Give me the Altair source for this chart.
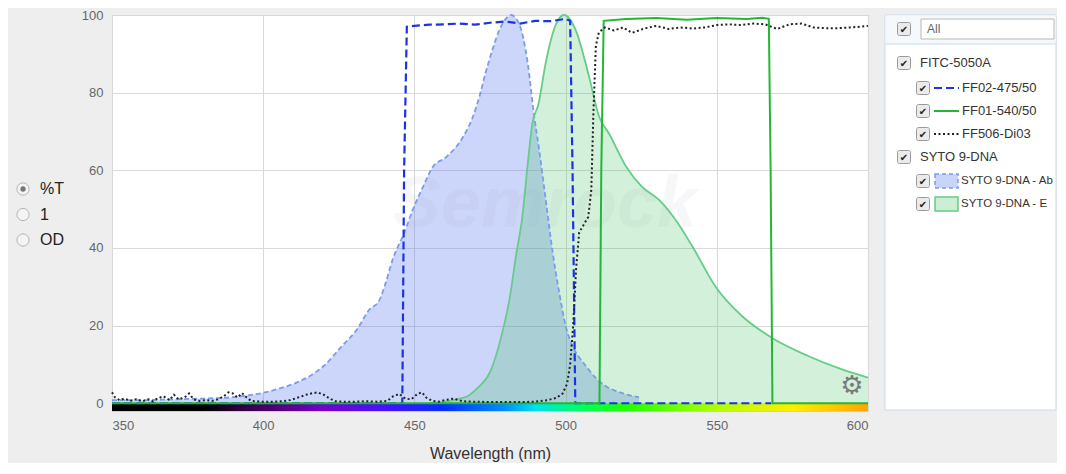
import altair as alt
import pandas as pd

# ---------------- data ----------------
# SYTO 9-DNA absorption (% of peak)
abs_wl = [350, 360, 370, 380, 389, 395, 400, 405, 411, 416, 420, 426, 431, 435, 438.4, 440.5,
          442.8, 446.7, 449.4, 453, 456, 460.5, 466, 469.3, 471.5, 473.5, 475.8, 478, 480, 482,
          484.7, 487.4, 489.6, 491.3, 493.5, 495.6, 497.9, 500, 502.3, 504.5, 506.7, 510, 513.3,
          516.5, 520, 524.3]
abs_v = [0.8, 0.8, 1.0, 1.2, 1.5, 2.0, 2.7, 3.7, 5.3, 7.3, 9.6, 14.7, 19, 24, 26.5, 31,
         37, 44, 49.7, 56, 60.8, 63.4, 68.5, 73.7, 79, 85, 91, 96, 98.8, 100,
         97.6, 88, 74, 65, 52, 39.5, 28.5, 20, 14.7, 11.8, 9.6, 6.5, 4.4,
         3.2, 2.3, 1.5]

# SYTO 9-DNA emission (% of peak)
em_wl = [455, 460, 464, 468, 471, 475, 479, 481.5, 483.6, 485.7, 487.4, 489, 491, 493.5, 496.8,
         499.5, 503.4, 507.8, 511, 514.4, 520, 525.3, 531, 536.4, 542, 549.6, 558.4, 568.3,
         580.4, 591.4, 600]
em_v = [0, 0.4, 1.0, 2.0, 4.0, 8.0, 18, 27, 38, 48, 61, 72, 77, 88, 97.6,
        100, 96, 84, 74, 69.4, 61, 55.7, 52.3, 47.2, 40.3, 30, 22.4, 16.8,
        12.1, 8.7, 6.6]

# FF02-475/50 (%T)
ff02_wl = [350, 446, 446.6, 447.5, 450, 455, 460, 465, 470, 475, 480, 485, 490, 495, 500,
           501.5, 502.3, 503.2, 568]
ff02_t = [0, 0, 60, 97, 97.2, 97.5, 97.6, 97.8, 97.5, 98, 98.3, 97.8, 98.5, 98.4, 99,
          98.5, 60, 0, 0]

# FF01-540/50 (%T)
ff01_wl = [350, 511.2, 511.8, 512.6, 520, 530, 540, 550, 560, 565, 567.2, 567.8, 568.4, 600]
ff01_t = [0, 0, 60, 98.5, 99, 99.2, 98.8, 99.2, 99.0, 99.3, 99, 60, 0, 0]

# FF506-Di03 (%T)
ff506_wl = [350, 351, 352.5, 354, 356, 358, 360, 362, 363.5, 365, 367, 369, 370.5, 372, 374,
            375.5, 377, 379, 381, 383, 385, 387, 388.5, 390, 391.5, 393, 394.5, 396, 398, 400,
            403, 406, 409, 412, 415, 418, 420, 422, 424, 427, 430, 434, 438, 441, 443, 445,
            447, 449, 451, 452.5, 454, 456, 458, 460, 463, 466, 470, 475, 480, 485, 490, 494,
            497, 499, 500.5, 501.5, 502.5, 503.5, 504.5, 506, 507.5, 508.5, 509.2, 510, 511,
            513, 516, 519, 522, 526, 530, 534, 538, 542, 546, 550, 554, 558, 562, 566, 570,
            574, 578, 582, 586, 590, 594, 598, 600]
ff506_t = [2.8, 1.5, 0.8, 1.2, 0.6, 1.0, 0.5, 1.0, 0.5, 1.2, 1.8, 0.8, 2.2, 1.0, 1.5,
           2.5, 1.0, 0.6, 0.8, 0.6, 1.0, 1.8, 2.8, 2.5, 1.5, 2.6, 1.5, 0.6, 0.5, 0.4,
           0.4, 0.5, 0.8, 1.6, 2.4, 2.8, 2.2, 1.2, 0.5, 0.4, 0.4, 0.5, 0.4, 0.6, 1.8, 2.4,
           1.2, 1.0, 2.4, 2.8, 1.4, 0.6, 0.4, 0.8, 1.2, 0.5, 0.4, 0.3, 0.3, 0.3, 0.4, 0.8,
           1.4, 2.5, 5, 10, 20, 35, 44, 46, 48, 55, 75, 92, 95.5,
           96.8, 96, 96.8, 95.4, 96.5, 97.2, 96.4, 96.8, 96.5, 96.8, 97.4, 97.6, 97.4, 97.8, 97.6, 96.4,
           97.6, 97.8, 96.8, 96.6, 96.6, 96.8, 97, 97.2]

x_ticks = [350, 400, 450, 500, 550, 600]
y_ticks = [0, 20, 40, 60, 80, 100]
modes = ["%T", "1", "OD"]
spectrum_range = [350, 600]

# ---------------- styling ----------------
FONT = "Liberation Sans"
OX, OY = 112, 15          # page position of the plot origin
W, H = 756, 396

xs = alt.Scale(domain=[350, 600], nice=False, zero=False)
ys = alt.Scale(domain=[-2, 100], nice=False, zero=False)
xaxis = alt.Axis(values=x_ticks, grid=True, ticks=False, domain=False, labelPadding=8,
                 labelFontSize=13, labelColor="#666666", labelFont=FONT,
                 titleFontSize=16, titleFontWeight="normal", titleColor="#333333",
                 titleFont=FONT, titlePadding=13, gridColor="#d9d9d9")
yaxis = alt.Axis(values=y_ticks, grid=True, ticks=False, domain=False, labelPadding=9,
                 labelFontSize=13, labelColor="#666666", labelFont=FONT, gridColor="#d9d9d9")


def X():
    return alt.X("wl:Q", scale=xs, axis=xaxis, title="Wavelength (nm)")


def Y():
    return alt.Y("v:Q", scale=ys, axis=yaxis, title=None)


abs_df = pd.DataFrame({"wl": abs_wl, "v": abs_v})
em_df = pd.DataFrame({"wl": em_wl, "v": em_v})
ff02_df = pd.DataFrame({"wl": ff02_wl, "v": ff02_t})
ff01_df = pd.DataFrame({"wl": ff01_wl, "v": ff01_t})
ff506_df = pd.DataFrame({"wl": ff506_wl, "v": ff506_t})
one = pd.DataFrame({"k": [0]})

# colour strip along the bottom
stops = [(0.0, "#000000"), (0.12, "#000000"), (0.2, "#4a0064"), (0.28, "#7800cc"),
         (0.36, "#4a10ff"), (0.44, "#0030ff"), (0.52, "#0090ff"), (0.56, "#00e0f0"),
         (0.62, "#00ff60"), (0.68, "#20ff00"), (0.8, "#b0ff00"), (0.9, "#ffee00"),
         (1.0, "#ffa500")]
grad = alt.LinearGradient(gradient="linear",
                          stops=[alt.GradientStop(offset=o, color=c) for o, c in stops],
                          x1=0, x2=1, y1=0, y2=0)
strip = alt.Chart(one).mark_rect(color=grad).encode(
    x=alt.X(datum=spectrum_range[0], scale=xs, axis=xaxis, title="Wavelength (nm)"),
    x2=alt.datum(spectrum_range[1]),
    y=alt.Y(datum=0, scale=ys, axis=yaxis, title=None),
    y2=alt.datum(-2))

abs_area = alt.Chart(abs_df).mark_area(color="#5577ee", opacity=0.3,
                                       interpolate="monotone").encode(
    x=X(), y=Y(), y2=alt.datum(0))
em_area = alt.Chart(em_df).mark_area(color="#33bb55", opacity=0.22,
                                     interpolate="monotone").encode(
    x=X(), y=Y(), y2=alt.datum(0))
abs_line = alt.Chart(abs_df).mark_line(color="#7a9cec", strokeWidth=1.8, strokeDash=[5, 3],
                                       interpolate="monotone").encode(x=X(), y=Y())
em_line = alt.Chart(em_df).mark_line(color="#66cc88", strokeWidth=1.8,
                                     interpolate="monotone").encode(x=X(), y=Y())
ff02_line = alt.Chart(ff02_df).mark_line(color="#1b33e0", strokeWidth=2.2,
                                         strokeDash=[8, 4]).encode(x=X(), y=Y())
ff01_line = alt.Chart(ff01_df).mark_line(color="#22b833", strokeWidth=2.0).encode(x=X(), y=Y())
ff506_line = alt.Chart(ff506_df).mark_line(color="#222222", strokeWidth=2.0,
                                           strokeDash=[2, 2.5]).encode(x=X(), y=Y())


# ---------------- UI decorations ----------------
def rect(x1, y1, x2, y2, **kw):
    return alt.Chart(one).mark_rect(**kw).encode(
        x=alt.value(x1 - OX), x2=alt.value(x2 - OX),
        y=alt.value(y1 - OY), y2=alt.value(y2 - OY))


def text(s, x, y, **kw):
    opts = dict(align="left", baseline="middle", font=FONT, fontSize=13, color="#333333")
    opts.update(kw)
    return alt.Chart(pd.DataFrame({"t": [s]})).mark_text(**opts).encode(
        x=alt.value(x - OX), y=alt.value(y - OY), text="t:N")


def hrule(x1, x2, y, **kw):
    return alt.Chart(one).mark_rule(**kw).encode(
        x=alt.value(x1 - OX), x2=alt.value(x2 - OX), y=alt.value(y - OY))


def checkbox(x, y):
    return [rect(x - 6.5, y - 6.5, x + 6.5, y + 6.5, fill="#ebebeb", stroke="#9a9a9a",
                 strokeWidth=1, cornerRadius=2),
            text("\u2714", x, y + 0.5, align="center", font="DejaVu Sans", fontSize=10,
                 color="#222222")]


ui = []
# anchors so the chart spans from the top-left page margin to just above the bottom edge
ui.append(rect(8, 8, 10, 10, fill="#eeeeee"))
ui.append(rect(8, 461, 10, 463, fill="#eeeeee"))

# radio buttons on the left
for i, m in enumerate(modes):
    cy = 189 + i * 25.5
    ui.append(alt.Chart(one).mark_point(shape="circle", filled=True, fill="#f4f4f4",
                                        stroke="#b5b5b5", strokeWidth=1, size=150,
                                        opacity=1).encode(
        x=alt.value(23 - OX), y=alt.value(cy - OY)))
    if i == 0:
        ui.append(alt.Chart(one).mark_point(shape="circle", filled=True, fill="#777777",
                                            size=28, opacity=1).encode(
            x=alt.value(23 - OX), y=alt.value(cy - OY)))
    ui.append(text(m, 40, cy, fontSize=16, color="#222222"))

# legend panel on the right
PL, PR = 885, 1056
ui.append(rect(PL, 15, PR, 410, fill="#ffffff", stroke="#c9dbec", strokeWidth=1))
ui.append(rect(PL + 0.5, 15.5, PR - 0.5, 44, fill="#f6f9fc"))
ui.append(hrule(PL, PR, 44, color="#c9dbec", strokeWidth=1))
ui += checkbox(904, 29)
ui.append(rect(921, 19, PR - 2, 39, fill="#ffffff", stroke="#b8b8b8", strokeWidth=1))
ui.append(text("All", 927, 29, fontSize=12, color="#666666"))

rows = [
    ("FITC-5050A", 0, 63, None),
    ("FF02-475/50", 1, 88, "ff02"),
    ("FF01-540/50", 1, 111, "ff01"),
    ("FF506-Di03", 1, 134, "ff506"),
    ("SYTO 9-DNA", 0, 157, None),
    ("SYTO 9-DNA - Ab", 1, 181, "abs"),
    ("SYTO 9-DNA - Em", 1, 204, "em"),
]
for label, lvl, cy, kind in rows:
    cx = 904 if lvl == 0 else 923
    ui += checkbox(cx, cy)
    if kind is None:
        ui.append(text(label, 920, cy))
        continue
    if kind == "ff02":
        ui.append(hrule(934, 959, cy, color="#1b33e0", strokeWidth=2.2, strokeDash=[8, 4]))
    elif kind == "ff01":
        ui.append(hrule(934, 959, cy, color="#22b833", strokeWidth=2.0))
    elif kind == "ff506":
        ui.append(hrule(934, 959, cy, color="#222222", strokeWidth=2.0, strokeDash=[2, 2.5]))
    elif kind == "abs":
        ui.append(rect(935, cy - 7, 958, cy + 7, fill="#c9d5f8", stroke="#7a9cec",
                       strokeWidth=1.5, strokeDash=[4, 3]))
    elif kind == "em":
        ui.append(rect(935, cy - 7, 958, cy + 7, fill="#cdeed6", stroke="#66cc88",
                       strokeWidth=1.5))
    if kind in ("abs", "em"):
        ui.append(text(label, 961, cy, fontSize=11.5, limit=PR - 961 - 1,
                       ellipsis="\u200b"))
    else:
        ui.append(text(label, 962, cy))

watermark = text("Semrock", 545, 205, align="center", fontSize=72, fontStyle="italic",
                 fontWeight="bold", color="#9aa0b0", opacity=0.07)
gear = text("\u2699", 852, 386, align="center", font="DejaVu Sans", fontSize=26,
            color="#7a7a7a")

chart = alt.layer(
    strip, abs_area, em_area, watermark, abs_line, em_line,
    ff02_line, ff01_line, ff506_line, gear, *ui
).properties(
    width=W, height=H, padding=0, background="#eeeeee"
).configure_view(
    fill="#ffffff", stroke="#cccccc", strokeWidth=1
)

chart.save("out.html", embed_options={"renderer": "svg", "actions": False})
